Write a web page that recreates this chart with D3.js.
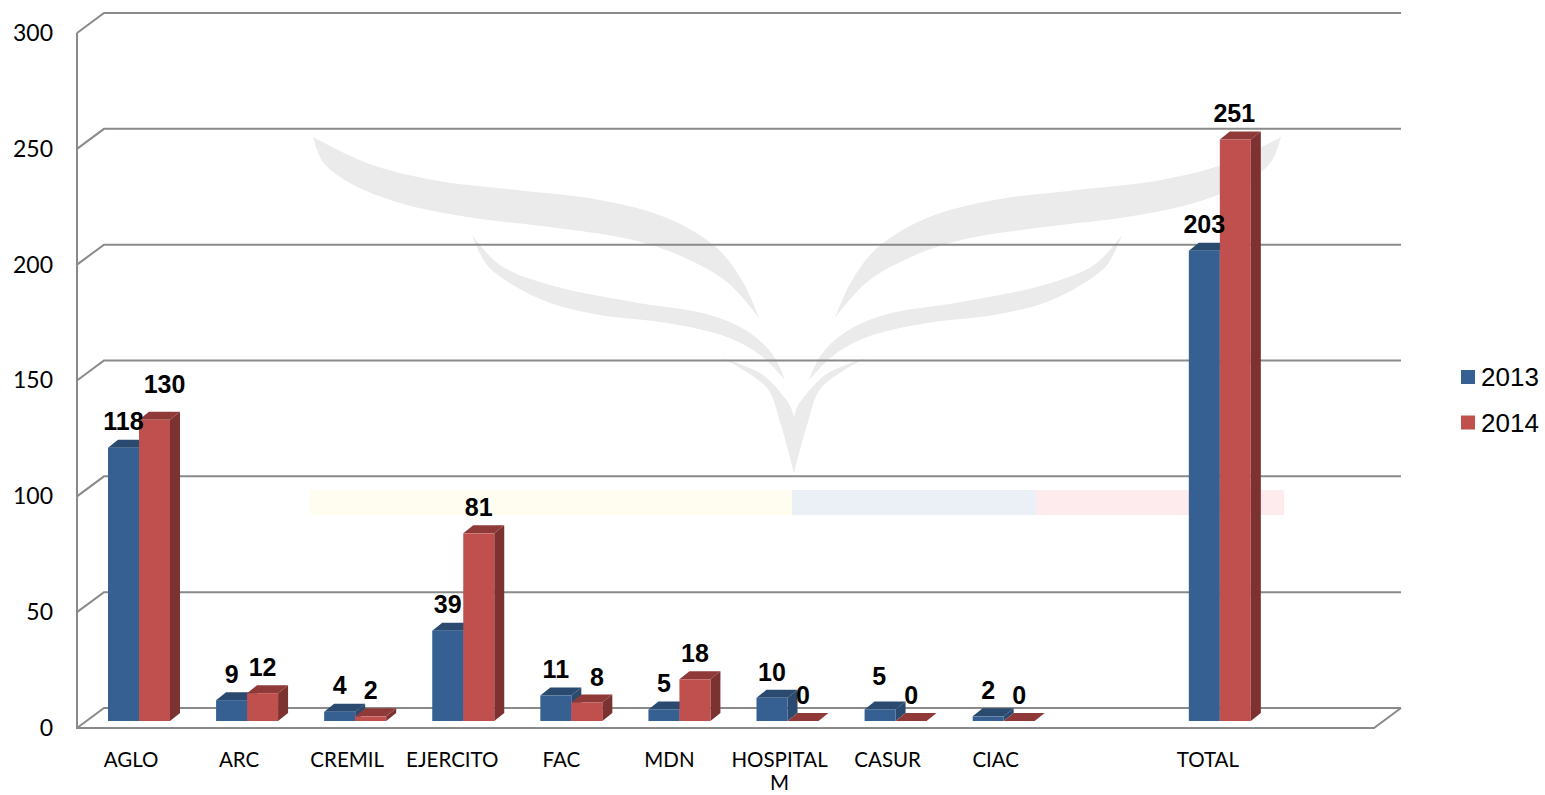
<!DOCTYPE html>
<html>
<head>
<meta charset="utf-8">
<style>
  html, body { margin: 0; padding: 0; background: #fff; overflow: hidden; }
  svg { display: block; }
</style>
<script src="https://cdnjs.cloudflare.com/ajax/libs/d3/7.8.5/d3.min.js"></script>
</head>
<body>
<div class="chart"></div>
<script>
// chart values
var categories = ["AGLO", "ARC", "CREMIL", "EJERCITO", "FAC", "MDN", "HOSPITAL M", "CASUR", "CIAC", "", "TOTAL", " "];
var values2013 = [118, 9, 4, 39, 11, 5, 10, 5, 2, null, 203, null];
var values2014 = [130, 12, 2, 81, 8, 18, 0, 0, 0, null, 251, null];
var seriesNames = ["2013", "2014"];
var yTicks = [0, 50, 100, 150, 200, 250, 300];

var svgWidth = 1545;
var svgHeight = 795;

// floor and left wall of the fake 3d box
var plot = { left: 77, right: 1374, top: 33, bottom: 728 };
var wallDx = 27;
var wallDy = -20;
// the bars stand a bit inside the floor
var barBase = 721;
var barDx = 10;
var barDy = -8;

var colors = {
  "2013": { front: "#376092", top: "#2a4a70", side: "#2a4a70" },
  "2014": { front: "#c0504d", top: "#8f3a38", side: "#7b3230" }
};
var gridColor = "#8a8a8a";

var svg = d3
  .select(".chart")
  .append("svg")
  .attr("width", svgWidth)
  .attr("height", svgHeight);

var xScale = d3.scaleBand()
  .domain(categories)
  .range([plot.left, plot.right]);

var seriesScale = d3.scaleBand()
  .domain(seriesNames)
  .range([31, 93]);

// axis scale sits on the front edge, bars use same units from their own base
var yAxisScale = d3.scaleLinear()
  .domain([0, 300])
  .range([plot.bottom, plot.top]);

var yBarScale = d3.scaleLinear()
  .domain([0, 300])
  .range([barBase, barBase - (plot.bottom - plot.top)]);

// watermark behind the grid, left half of each wing gets mirrored
var wings = [
  {
    axis: 797,
    upper: [[313, 137], [367, 163], [433, 180], [517, 190], [600, 200], [667, 218], [717, 248], [743, 282], [759, 318]],
    lower: [[759, 318], [727, 282], [683, 257], [633, 240], [550, 227], [467, 217], [400, 203], [350, 183], [323, 162], [313, 137]]
  },
  {
    axis: 797,
    upper: [[472, 235], [500, 265], [550, 285], [633, 302], [710, 315], [750, 333], [773, 355], [785, 380]],
    lower: [[785, 380], [760, 355], [727, 337], [667, 323], [600, 315], [550, 303], [513, 285], [487, 265], [472, 235]]
  },
  {
    axis: 794,
    upper: [[722, 358], [760, 373], [780, 392], [793, 413], [794, 473]],
    lower: [[794, 473], [780, 422], [767, 388], [722, 358]]
  }
];

var wingLine = d3.line().curve(d3.curveCatmullRom.alpha(0.5));
var watermark = svg.append("g").attr("class", "watermark").attr("fill", "#ebebeb");

wings.forEach(function (wing) {
  var outline = wingLine(wing.upper) + wingLine(wing.lower).replace("M", "L") + "Z";
  watermark.append("path").attr("d", outline);
  watermark.append("path")
    .attr("d", outline)
    .attr("transform", `translate(${wing.axis * 2}, 0) scale(-1, 1)`);
});

var stripes = [
  { x0: 310, x1: 792, fill: "#fffdf0" },
  { x0: 792, x1: 1036, fill: "#ebf0f7" },
  { x0: 1036, x1: 1284, fill: "#fdebed" }
];

watermark.selectAll("rect")
  .data(stripes)
  .enter()
  .append("rect")
  .attr("x", d => d.x0)
  .attr("y", 490)
  .attr("width", d => d.x1 - d.x0)
  .attr("height", 25)
  .attr("fill", d => d.fill);

// grid: back wall line plus the short diagonal on the left wall
var grid = svg.append("g")
  .attr("class", "grid")
  .attr("stroke", gridColor)
  .attr("stroke-width", 2)
  .attr("fill", "none");

grid.selectAll("path")
  .data(yTicks)
  .enter()
  .append("path")
  .attr("d", d => {
    var y = yAxisScale(d);
    return `M${plot.left},${y}L${plot.left + wallDx},${y + wallDy}L${plot.right + wallDx},${y + wallDy}`;
  });

// floor front edge and right side
grid.append("path")
  .attr("d", `M${plot.left},${plot.bottom}L${plot.right},${plot.bottom}L${plot.right + wallDx},${plot.bottom + wallDy}`);

// left wall
grid.append("line")
  .attr("x1", plot.left)
  .attr("x2", plot.left)
  .attr("y1", plot.top)
  .attr("y2", plot.bottom + 1);

// y axis
var leftAxis = d3.axisLeft(yAxisScale)
  .tickValues(yTicks)
  .tickSize(0)
  .tickPadding(24);

var yAxis = svg.append("g")
  .attr("transform", `translate(${plot.left}, 0)`)
  .call(leftAxis);

yAxis.select(".domain").remove();
yAxis.selectAll("text")
  .attr("font-family", "Lato")
  .attr("font-size", "23px")
  .attr("fill", "#000");

// x axis
var bottomAxis = d3.axisBottom(xScale)
  .tickSize(0)
  .tickPadding(24);

var xAxis = svg.append("g")
  .attr("transform", `translate(0, ${plot.bottom})`)
  .call(bottomAxis);

xAxis.select(".domain").remove();
xAxis.selectAll("text")
  .attr("font-family", "Lato")
  .attr("font-size", "20.5px")
  .attr("fill", "#000")
  .attr("dx", d => d == "TOTAL" ? -4 : (d == "EJERCITO" ? -3 : (d == "FAC" || d == "MDN" ? -2 : 0)));

// HOSPITAL M doesn't fit its band so it breaks in two lines
xAxis.selectAll("text")
  .filter(d => d == "HOSPITAL M")
  .text(null)
  .each(function (d) {
    var label = d3.select(this);
    d.split(" ").forEach(function (word, i) {
      label.append("tspan")
        .attr("x", 0)
        .attr("dy", i == 0 ? "0.71em" : "1.15em")
        .text(word);
    });
  })
  .attr("dy", null);

// bars
var series = [
  { name: seriesNames[0], values: values2013 },
  { name: seriesNames[1], values: values2014 }
];

var rows = [];
series.forEach(function (s) {
  s.values.forEach(function (v, i) {
    if (v !== null) {
      rows.push({ name: s.name, category: categories[i], value: v });
    }
  });
});

var bars = svg.append("g")
  .attr("class", "bars")
  .selectAll("g")
  .data(rows)
  .enter()
  .append("g")
  .attr("transform", d => `translate(${xScale(d.category) + seriesScale(d.name)}, 0)`);

var barWidth = seriesScale.bandwidth();

bars.append("path")
  .attr("fill", d => colors[d.name].side)
  .attr("d", d => {
    var y = yBarScale(d.value);
    return `M${barWidth},${y}L${barWidth + barDx},${y + barDy}L${barWidth + barDx},${barBase + barDy}L${barWidth},${barBase}Z`;
  });

bars.append("path")
  .attr("fill", d => colors[d.name].top)
  .attr("d", d => {
    var y = yBarScale(d.value);
    return `M0,${y}L${barDx},${y + barDy}L${barWidth + barDx},${y + barDy}L${barWidth},${y}Z`;
  });

bars.append("rect")
  .attr("x", 0)
  .attr("width", barWidth)
  .attr("y", d => yBarScale(d.value))
  .attr("height", d => barBase - yBarScale(d.value))
  .attr("fill", d => colors[d.name].front);

// a few labels were dragged away from their bars in the original
function labelNudge(d) {
  if (d.name == "2014" && d.category == "AGLO") return [10, -10];
  if (d.name == "2014" && d.category == "FAC") return [10, 1];
  if (d.name == "2013" && d.category == "CASUR") return [-1, -7];
  if (d.name == "2014" && d.category == "TOTAL") return [-1, 0];
  return [0, 0];
}

svg.append("g")
  .attr("class", "labels")
  .selectAll("text")
  .data(rows)
  .enter()
  .append("text")
  .attr("x", d => xScale(d.category) + seriesScale(d.name) + barWidth / 2 + labelNudge(d)[0])
  .attr("y", d => yBarScale(d.value) - 26 + labelNudge(d)[1])
  .attr("dy", "0.35em")
  .attr("text-anchor", "middle")
  .attr("font-family", "Liberation Sans")
  .attr("font-weight", "bold")
  .attr("font-size", "25px")
  .attr("fill", "#000")
  .text(d => d.value);

// legend
var legend = svg.append("g")
  .attr("class", "legend")
  .selectAll("g")
  .data(seriesNames)
  .enter()
  .append("g")
  .attr("transform", (d, i) => `translate(1461, ${370 + i * 45.5})`);

legend.append("rect")
  .attr("width", 14)
  .attr("height", 14)
  .attr("fill", d => colors[d].front);

legend.append("text")
  .attr("x", 20)
  .attr("y", 7)
  .attr("dy", "0.35em")
  .attr("font-family", "Liberation Sans")
  .attr("font-size", "26px")
  .attr("fill", "#000")
  .text(d => d);
</script>
</body>
</html>
